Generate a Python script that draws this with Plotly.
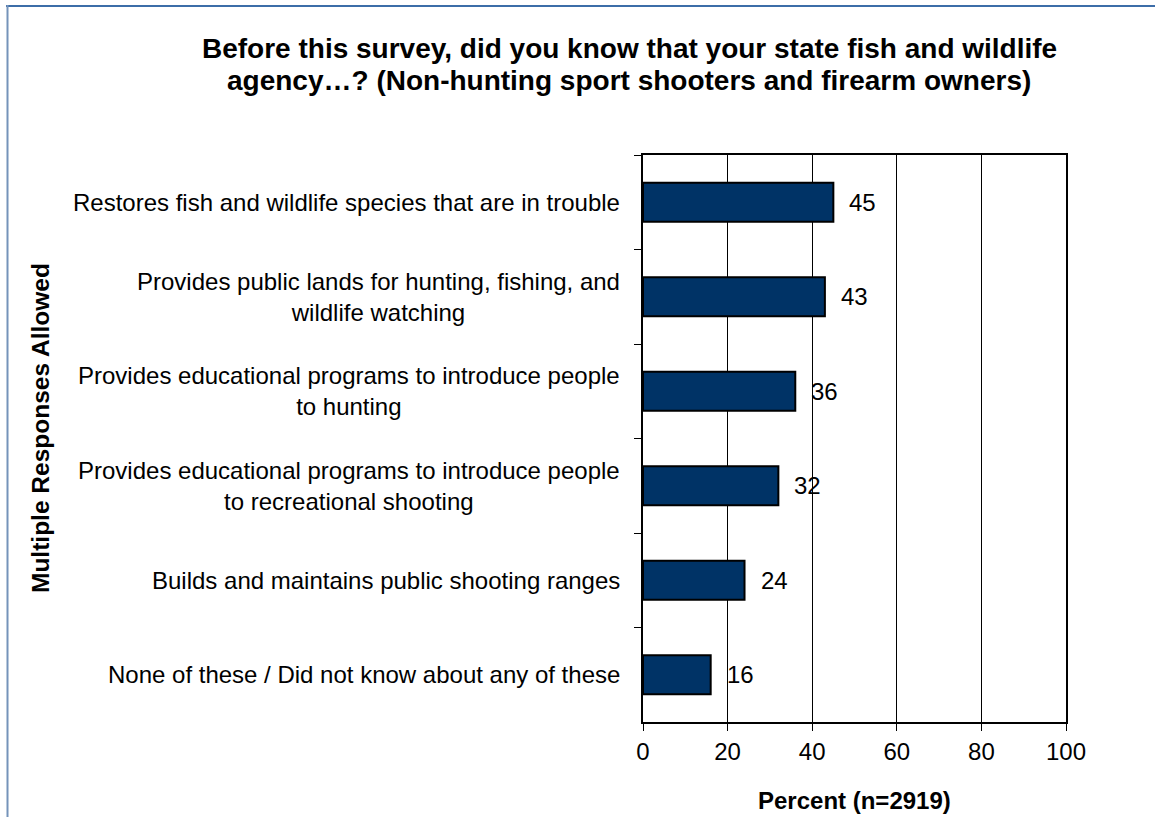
import plotly.graph_objects as go

# Survey responses (percent of respondents), top to bottom
categories = [
    "Restores fish and wildlife species that are in trouble",
    "Provides public lands for hunting, fishing, and<br>wildlife watching",
    "Provides educational programs to introduce people<br>to hunting",
    "Provides educational programs to introduce people<br>to recreational shooting",
    "Builds and maintains public shooting ranges",
    "None of these / Did not know about any of these",
]
values = [45, 43, 36, 32, 24, 16]
x_ticks = [0, 20, 40, 60, 80, 100]

title_lines = [
    "Before this survey, did you know that your state fish and wildlife",
    "agency…? (Non-hunting sport shooters and firearm owners)",
]
x_title = "Percent (n=2919)"
y_title = "Multiple Responses Allowed"

FONT = "Arial, Liberation Sans, sans-serif"

# page geometry (pixels)
W, H = 1155, 817
L, R, T, B = 643, 89, 155, 95
PW, PH = W - L - R, H - T - B


def px_x(p):
    return (p - L) / PW


def px_y(p):
    return (H - B - p) / PH


fig = go.Figure()
fig.add_trace(go.Bar(
    x=values,
    y=categories,
    orientation="h",
    marker=dict(color="#003366", line=dict(color="black", width=2)),
    hoverinfo="x+y",
))

annotations = []
# category labels (centered multi-line, right-aligned block)
for c in categories:
    annotations.append(dict(
        x=0, xref="paper", y=c, yref="y", text=c, showarrow=False,
        xanchor="right", yanchor="middle", xshift=-21, align="center",
        font=dict(family=FONT, size=24, color="black"),
    ))
# value labels
for c, v in zip(categories, values):
    annotations.append(dict(
        x=v, xref="x", y=c, yref="y", text=str(v), showarrow=False,
        xanchor="left", yanchor="middle", xshift=14,
        font=dict(family=FONT, size=24, color="black"),
    ))
# chart title, one annotation per line
for line, ypx in zip(title_lines, [49, 81]):
    annotations.append(dict(
        x=px_x(629), xref="paper", y=px_y(ypx), yref="paper", text="<b>" + line + "</b>",
        showarrow=False, xanchor="center", yanchor="middle", align="center",
        font=dict(family=FONT, size=28, color="black"),
    ))
annotations.append(dict(
    x=0.5, xref="paper", y=px_y(800), yref="paper", text="<b>" + x_title + "</b>",
    showarrow=False, xanchor="center", yanchor="middle",
    font=dict(family=FONT, size=24, color="black"),
))
annotations.append(dict(
    x=px_x(40), xref="paper", y=px_y(428), yref="paper", text="<b>" + y_title + "</b>",
    showarrow=False, xanchor="center", yanchor="middle", textangle=-90,
    font=dict(family=FONT, size=24.5, color="black"),
))

shapes = [
    # outer frame: top and left rules
    dict(type="line", xref="paper", yref="paper",
         x0=px_x(6), x1=px_x(W + 2), y0=px_y(6), y1=px_y(6),
         line=dict(color="#3C6DA8", width=2)),
    dict(type="line", xref="paper", yref="paper",
         x0=px_x(7.5), x1=px_x(7.5), y0=px_y(5), y1=px_y(H + 2),
         line=dict(color="#7593BA", width=2)),
]

fig.update_layout(
    width=W, height=H,
    margin=dict(l=L, r=R, t=T, b=B, pad=0),
    paper_bgcolor="white", plot_bgcolor="white",
    showlegend=False,
    bargap=0.587,
    annotations=annotations,
    shapes=shapes,
    font=dict(family=FONT, size=24, color="black"),
    xaxis=dict(
        range=[0, 100], tickvals=x_ticks, ticktext=[str(t) for t in x_ticks],
        showgrid=True, gridcolor="black", gridwidth=1,
        showline=True, linecolor="black", linewidth=2, mirror=True,
        ticks="outside", ticklen=7, tickcolor="black", tickwidth=1,
        tickfont=dict(family=FONT, size=24, color="black"),
        zeroline=False, fixedrange=True,
    ),
    yaxis=dict(
        type="category", categoryorder="array", categoryarray=categories,
        autorange="reversed", tickson="boundaries",
        showticklabels=False, showgrid=False,
        showline=True, linecolor="black", linewidth=2, mirror=True,
        ticks="outside", ticklen=7, tickcolor="black", tickwidth=1,
        zeroline=False, fixedrange=True,
    ),
)

fig.write_html("out.html")
